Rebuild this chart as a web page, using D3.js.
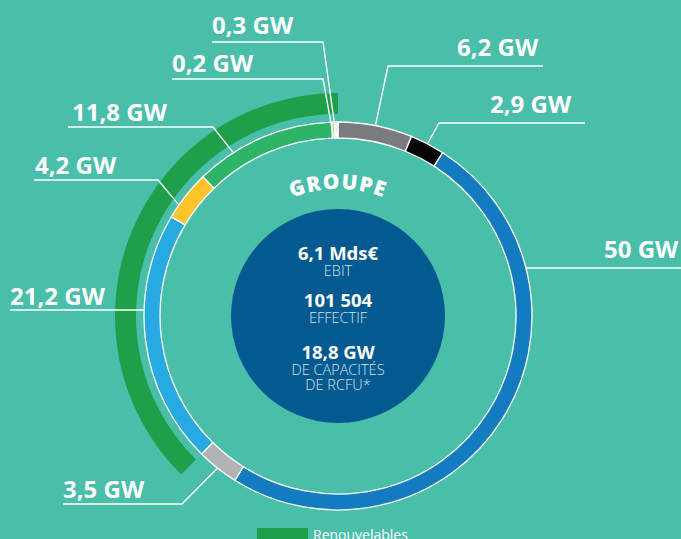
<!DOCTYPE html>
<html lang="fr">
<head>
<meta charset="utf-8">
<script src="https://cdn.jsdelivr.net/npm/d3@7"></script>
<style>
  html, body { margin: 0; padding: 0; background: #49bea9; overflow: hidden; }
  svg { display: block; font-family: "Open Sans", "Noto Sans", sans-serif; }
</style>
</head>
<body>
<div id="chart"></div>
<script>
// Ring segments, clockwise from 12 o'clock
const segmentLabels = ['6,2 GW', '2,9 GW', '50 GW', '3,5 GW', '21,2 GW', '4,2 GW', '11,8 GW', '0,2 GW', '0,3 GW'];
const segmentValues = [6.2, 2.9, 50, 3.5, 21.2, 4.2, 11.8, 0.2, 0.3];
const renewable = [false, false, false, false, true, true, true, true, true];
const segmentColors = ['#7b7b7e', '#050505', '#137bbf', '#b1b2b5', '#27a9e1', '#fdc52a', '#2db466', '#8dc63f', '#e4f1dc'];

// Centre block
const centerValues = ['6,1 Mds€', '101 504', '18,8 GW'];
const centerCaptions = [['EBIT'], ['EFFECTIF'], ['DE CAPACITÉS', 'DE RCFU*']];
const title = 'GROUPE';
const legendLabel = 'Renouvelables';

// Layout
const width = 681;
const height = 539;
const cx = 338, cy = 316;
const rOuter = 194, rInner = 178;
const greenInner = 202, greenOuter = 223;
const hub = 107;

// label placement: text position, underline, and where the leader hits the ring
const labelLayout = {
    '6,2 GW':  { tx: 457, ty: 56,  ly: 66,  x0: 388, x1: 543, elbow: 388, anchor: 'mid' },
    '2,9 GW':  { tx: 490, ty: 113, ly: 123, x0: 439, x1: 585, elbow: 439, anchor: 'mid' },
    '50 GW':   { tx: 604, ty: 258, ly: 268, x0: null, x1: 681, anchor: 'horizontal' },
    '3,5 GW':  { tx: 63,  ty: 498, ly: 504, x0: 63,  x1: 182, elbow: 182, anchor: 'mid' },
    '21,2 GW': { tx: 10,  ty: 305, ly: 310, x0: 10,  x1: null, anchor: 'horizontal' },
    '4,2 GW':  { tx: 35,  ty: 174, ly: 180, x0: 34,  x1: 158, elbow: 158, anchor: 0.28 },
    '11,8 GW': { tx: 72,  ty: 121, ly: 127, x0: 68,  x1: 213, elbow: 213, anchor: 0.27 },
    '0,2 GW':  { tx: 172, ty: 72,  ly: 79,  x0: 172, x1: 323, elbow: 323, anchor: 'mid', inner: true },
    '0,3 GW':  { tx: 212, ty: 34,  ly: 42,  x0: 212, x1: 323, elbow: 323, anchor: 'mid', inner: true }
};

const svg = d3.select('#chart').append('svg')
    .attr('width', width)
    .attr('height', height);

svg.append('rect')
    .attr('width', width)
    .attr('height', height)
    .attr('fill', '#49bea9');

const g = svg.append('g').attr('transform', `translate(${cx},${cy})`);

const color = d3.scaleOrdinal().domain(segmentLabels).range(segmentColors);

const pie = d3.pie().sort(null).value(d => d.value);
const slices = pie(segmentLabels.map((label, i) => ({ label, value: segmentValues[i], renewable: renewable[i] })));

const ringArc = d3.arc().innerRadius(rInner).outerRadius(rOuter);

// outer "Renouvelables" band spans the renewable slices
const greenSlices = slices.filter(s => s.data.renewable);
const greenArc = d3.arc()
    .innerRadius(greenInner)
    .outerRadius(greenOuter)
    .startAngle(d3.min(greenSlices, s => s.startAngle))
    .endAngle(d3.max(greenSlices, s => s.endAngle));

g.append('path')
    .attr('d', greenArc())
    .attr('fill', '#1ea04b');

g.selectAll('path.seg')
    .data(slices)
    .join('path')
    .attr('class', 'seg')
    .attr('d', ringArc)
    .attr('fill', d => color(d.data.label))
    .attr('stroke', '#fff')
    .attr('stroke-width', 1.3);

// centre disc
g.append('circle')
    .attr('r', hub)
    .attr('fill', '#035a90');

// curved title
const titleR = 127;
svg.append('defs').append('path')
    .attr('id', 'title-path')
    .attr('d', `M${cx - titleR},${cy} A${titleR},${titleR} 0 0 1 ${cx + titleR},${cy}`);

svg.append('text')
    .attr('fill', '#fff')
    .style('font-size', '21px')
    .style('font-weight', 800)
    .style('letter-spacing', '1.2px')
    .append('textPath')
    .attr('href', '#title-path')
    .attr('startOffset', '50%')
    .attr('text-anchor', 'middle')
    .text(title);

// centre figures
const blockY = [260, 307, 359];
centerValues.forEach((v, i) => {
    g.append('text')
        .attr('x', 0)
        .attr('y', blockY[i] - cy)
        .attr('text-anchor', 'middle')
        .attr('fill', '#fff')
        .style('font-size', '18.5px')
        .style('font-weight', 700)
        .text(v);
    centerCaptions[i].forEach((c, j) => {
        g.append('text')
            .attr('x', 0)
            .attr('y', blockY[i] - cy + 16 + j * 15)
            .attr('text-anchor', 'middle')
            .attr('fill', '#d6e4ef')
            .style('font-size', '14.5px')
            .style('font-weight', 300)
            .text(c);
    });
});

// leaders and labels
function pointAt(angle, r) {
    return [cx + Math.sin(angle) * r, cy - Math.cos(angle) * r];
}

const lines = svg.append('g')
    .attr('stroke', '#fff')
    .attr('stroke-width', 1.4)
    .attr('fill', 'none');

slices.forEach(s => {
    const L = labelLayout[s.data.label];
    if (!L) return;

    if (L.anchor === 'horizontal') {
        const dy = L.ly - cy;
        const dx = Math.sqrt(rOuter * rOuter - dy * dy);
        const side = L.x0 === null ? 1 : -1;
        const xr = cx + side * dx;
        lines.append('line')
            .attr('x1', L.x0 === null ? xr : L.x0)
            .attr('x2', L.x1 === null ? xr : L.x1)
            .attr('y1', L.ly)
            .attr('y2', L.ly);
    } else {
        const frac = L.anchor === 'mid' ? 0.5 : L.anchor;
        const a = s.startAngle + (s.endAngle - s.startAngle) * frac;
        const p = pointAt(a, L.inner ? rInner + 1 : rOuter + 1);
        lines.append('polyline')
            .attr('points', [[L.x0 === L.elbow ? L.x1 : L.x0, L.ly], [L.elbow, L.ly], p].map(q => q.join(',')).join(' '));
    }

    svg.append('text')
        .attr('x', L.tx)
        .attr('y', L.ty)
        .attr('fill', '#fff')
        .style('font-size', '24px')
        .style('font-weight', 700)
        .text(s.data.label);
});

// legend
svg.append('rect')
    .attr('x', 257)
    .attr('y', 528)
    .attr('width', 51)
    .attr('height', 14)
    .attr('fill', '#1ea04b');

svg.append('text')
    .attr('x', 313)
    .attr('y', 540)
    .attr('fill', '#fff')
    .style('font-size', '14px')
    .text(legendLabel);
</script>
</body>
</html>
